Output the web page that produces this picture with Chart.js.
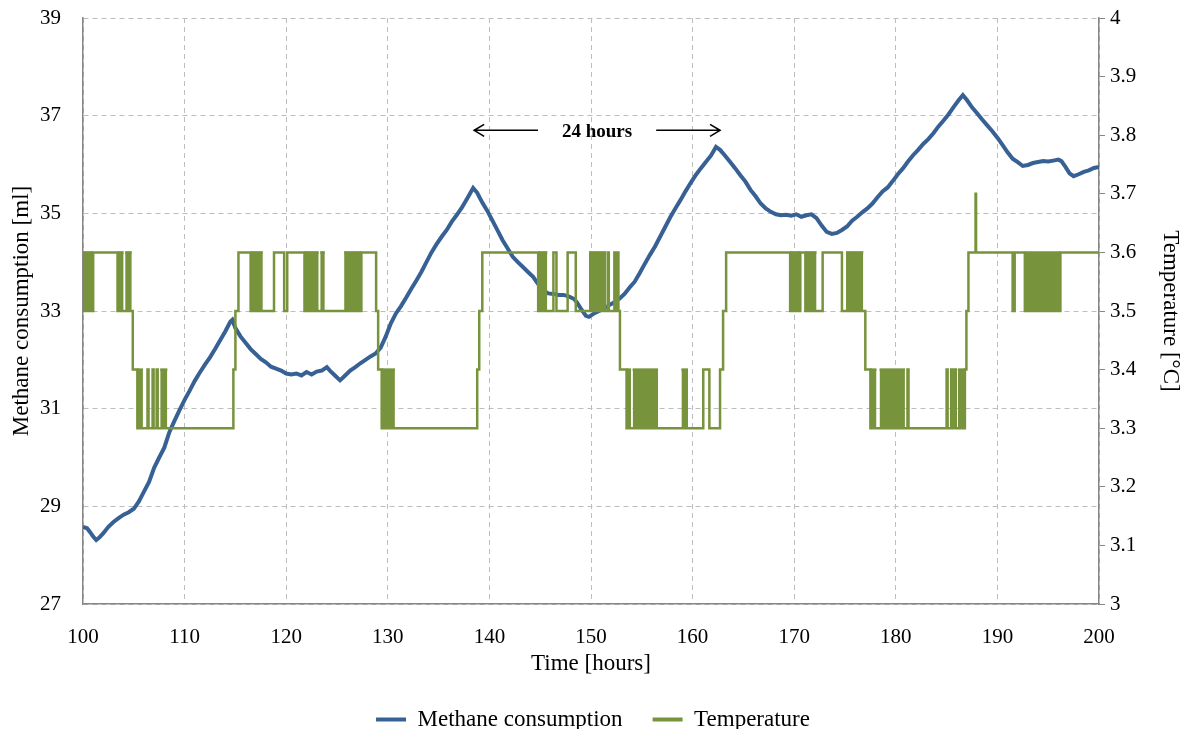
<!DOCTYPE html>
<html>
<head>
<meta charset="utf-8">
<script src="https://cdn.jsdelivr.net/npm/chart.js@4.4.1/dist/chart.umd.min.js"></script>
<style>
  html, body { margin: 0; padding: 0; background: #fff; }
  .chart-wrap { width: 1186px; height: 729px; }
</style>
</head>
<body>
<div class="chart-wrap"><canvas id="methaneChart"></canvas></div>
<script>
// methane consumption [ml] against time [hours]
const methaneHours = [
  100.0, 100.4, 100.7, 101.0, 101.3, 101.6, 102.0, 102.5, 103.0, 103.5, 104.0, 104.5, 105.0, 105.5,
  106.0, 106.5, 107.0, 107.5, 108.0, 108.5, 109.0, 109.5, 110.0, 110.5, 111.0, 111.5, 112.0, 112.5,
  113.0, 113.5, 114.0, 114.5, 114.7, 115.0, 115.5, 116.0, 116.5, 117.0, 117.5, 118.0, 118.5, 119.0,
  119.5, 120.0, 120.5, 121.0, 121.5, 122.0, 122.5, 123.0, 123.5, 124.0, 124.3, 124.8, 125.3, 125.8,
  126.3, 126.8, 127.3, 127.8, 128.3, 128.8, 129.3, 129.8, 130.3, 130.8, 131.3, 131.8, 132.3, 132.8,
  133.3, 133.8, 134.3, 134.8, 135.3, 135.8, 136.3, 136.8, 137.3, 137.8, 138.4, 138.8, 139.3, 139.8,
  140.3, 140.8, 141.3, 141.8, 142.3, 142.8, 143.3, 143.8, 144.3, 144.8, 145.3, 145.8, 146.3, 146.8,
  147.3, 147.8, 148.3, 148.6, 149.0, 149.5, 149.8, 150.3, 150.8, 151.3, 151.8, 152.3, 152.8, 153.3,
  153.8, 154.3, 154.8, 155.3, 155.8, 156.3, 156.8, 157.3, 157.8, 158.3, 158.8, 159.3, 159.8, 160.3,
  160.8, 161.3, 161.8, 162.3, 162.7, 163.2, 163.7, 164.2, 164.7, 165.2, 165.7, 166.2, 166.7, 167.2,
  167.7, 168.2, 168.7, 169.2, 169.7, 170.2, 170.7, 171.2, 171.7, 172.2, 172.7, 173.2, 173.7, 174.2,
  174.7, 175.2, 175.7, 176.2, 176.7, 177.2, 177.7, 178.2, 178.7, 179.2, 179.7, 180.2, 180.7, 181.2,
  181.7, 182.2, 182.7, 183.2, 183.7, 184.2, 184.7, 185.2, 185.7, 186.2, 186.6, 187.0, 187.5, 188.0,
  188.5, 189.0, 189.5, 190.0, 190.5, 191.0, 191.5, 192.0, 192.5, 193.0, 193.5, 194.0, 194.5, 195.0,
  195.5, 196.0, 196.3, 196.7, 197.1, 197.5, 198.0, 198.5, 199.0, 199.5, 200.0
];
const methaneMl = [
  28.58, 28.55, 28.47, 28.38, 28.31, 28.36, 28.45, 28.58, 28.68, 28.76, 28.83, 28.88, 28.95, 29.10,
  29.30, 29.50, 29.79, 30.00, 30.20, 30.52, 30.75, 30.97, 31.18, 31.37, 31.57, 31.74, 31.90, 32.05,
  32.22, 32.40, 32.58, 32.78, 32.82, 32.65, 32.48, 32.35, 32.22, 32.12, 32.02, 31.95, 31.86, 31.82,
  31.78, 31.72, 31.70, 31.72, 31.68, 31.75, 31.70, 31.76, 31.78, 31.85, 31.78, 31.68, 31.58, 31.68,
  31.78, 31.85, 31.93, 32.00, 32.07, 32.13, 32.25, 32.48, 32.75, 32.95, 33.10, 33.27, 33.45, 33.62,
  33.80, 34.00, 34.20, 34.37, 34.52, 34.66, 34.83, 34.97, 35.12, 35.30, 35.52, 35.42, 35.22, 35.05,
  34.85, 34.65, 34.45, 34.28, 34.11, 34.00, 33.90, 33.80, 33.70, 33.55, 33.42, 33.36, 33.35, 33.33,
  33.33, 33.30, 33.25, 33.18, 33.05, 32.90, 32.88, 32.95, 33.00, 33.05, 33.12, 33.18, 33.25, 33.35,
  33.48, 33.60, 33.78, 33.97, 34.15, 34.32, 34.52, 34.72, 34.92, 35.10, 35.27, 35.45, 35.62, 35.78,
  35.92, 36.05, 36.18, 36.36, 36.30, 36.18, 36.05, 35.92, 35.78, 35.65, 35.48, 35.35, 35.20, 35.10,
  35.03, 34.98, 34.96, 34.97, 34.95, 34.98, 34.93, 34.96, 34.98, 34.90, 34.75, 34.62, 34.58, 34.60,
  34.66, 34.73, 34.85, 34.93, 35.02, 35.10, 35.20, 35.33, 35.45, 35.53, 35.66, 35.80, 35.92, 36.06,
  36.19, 36.30, 36.42, 36.52, 36.64, 36.78, 36.90, 37.03, 37.18, 37.32, 37.42, 37.32, 37.17, 37.05,
  36.92, 36.80, 36.68, 36.55, 36.40, 36.25, 36.12, 36.05, 35.97, 35.99, 36.03, 36.05, 36.07, 36.06,
  36.08, 36.10, 36.07, 35.95, 35.82, 35.76, 35.80, 35.85, 35.88, 35.93, 35.95
];

// temperature [°C]: each entry is the time the reading switched and its new value
const tempHours = [
  100.0, 101.0, 103.4, 104.9, 105.35, 106.35, 106.45, 106.85, 106.95, 107.25, 107.35,
  114.8, 115.0, 115.3, 116.5, 118.8, 119.8, 120.1, 121.8, 127.4, 128.85, 129.05, 129.4,
  138.8, 139.0, 139.3, 144.8, 146.3, 146.6, 147.7, 148.5, 151.65, 151.75, 152.3, 152.4,
  152.6, 152.7, 152.85, 153.5, 161.05, 161.65, 162.7, 163.0, 163.3, 169.6, 170.6, 171.1,
  172.8, 174.7, 177.0, 177.5, 181.15, 181.25, 185.0, 185.1, 185.45, 185.55, 185.8, 185.9,
  186.8, 186.95, 187.15, 187.85, 187.9, 191.5, 191.7, 192.7, 196.2, 200.0
];
const tempValues = [
  3.5, 3.6, 3.5, 3.4, 3.3, 3.4, 3.3, 3.4, 3.3, 3.4, 3.3,
  3.4, 3.5, 3.6, 3.5, 3.6, 3.5, 3.6, 3.5, 3.6, 3.5, 3.4, 3.3,
  3.4, 3.5, 3.6, 3.5, 3.6, 3.5, 3.6, 3.5, 3.6, 3.5, 3.6, 3.5,
  3.6, 3.5, 3.4, 3.3, 3.4, 3.3, 3.4, 3.5, 3.6, 3.5, 3.6, 3.5,
  3.6, 3.5, 3.4, 3.3, 3.4, 3.3, 3.4, 3.3, 3.4, 3.3, 3.4, 3.3,
  3.4, 3.5, 3.6, 3.7, 3.6, 3.5, 3.6, 3.5, 3.6, 3.6
];

// stretches where the sensor flickers between two neighbouring readings
const flickerStart = [100.0, 103.4, 104.15, 116.5, 121.8, 123.35, 125.7, 144.8, 149.8, 169.6, 171.1, 175.1, 192.7,
                      105.35, 107.6, 129.4, 153.5, 154.1, 158.9, 177.5, 178.4, 186.1];
const flickerEnd   = [101.0, 104.0, 104.8, 117.7, 123.2, 123.8, 127.4, 145.7, 151.5, 170.6, 172.2, 176.8, 196.2,
                      105.9, 108.3, 130.7, 153.95, 156.6, 159.55, 178.1, 180.9, 186.8];
const flickerHigh  = [3.6, 3.6, 3.6, 3.6, 3.6, 3.6, 3.6, 3.6, 3.6, 3.6, 3.6, 3.6, 3.6,
                      3.4, 3.4, 3.4, 3.4, 3.4, 3.4, 3.4, 3.4, 3.4];

const methaneTicks = [27, 29, 31, 33, 35, 37, 39];
const tempTicks = [3, 3.1, 3.2, 3.3, 3.4, 3.5, 3.6, 3.7, 3.8, 3.9, 4];
const hourTicks = [100, 110, 120, 130, 140, 150, 160, 170, 180, 190, 200];

// "24 hours" arrow between two methane peaks
const arrowFrom = 138.5, arrowTo = 162.7, arrowLevel = 36.7;
const arrowText = '24 hours';

const blue = '#376194';
const green = '#77933c';
const serif = '"Liberation Serif", "Times New Roman", serif';

const methaneSeries = methaneHours.map((h, i) => ({x: h, y: methaneMl[i]}));
const tempSeries = tempHours.map((h, i) => ({x: h, y: tempValues[i]}));

const flickerSets = flickerStart.map((s, i) => ({
  label: 'flicker',
  isFlicker: true,
  data: [{x: s, y: flickerHigh[i]}, {x: flickerEnd[i], y: flickerHigh[i]}],
  yAxisID: 'yT',
  borderColor: green,
  backgroundColor: green,
  borderWidth: 2.5,
  pointRadius: 0,
  fill: {value: Math.round((flickerHigh[i] - 0.1) * 10) / 10},
  order: 0
}));

function fixedTicks(values) {
  return scale => { scale.ticks = values.map(v => ({value: v})); };
}

const arrowNote = {
  id: 'arrowNote',
  afterDatasetsDraw(chart) {
    const {ctx, scales} = chart;
    const yy = scales.y.getPixelForValue(arrowLevel);
    const x1 = scales.x.getPixelForValue(arrowFrom);
    const x2 = scales.x.getPixelForValue(arrowTo);
    const xm = (x1 + x2) / 2;
    ctx.save();
    ctx.font = 'bold 19px ' + serif;
    const gap = ctx.measureText(arrowText).width / 2 + 24;
    ctx.strokeStyle = '#000';
    ctx.lineWidth = 1.6;
    ctx.beginPath();
    ctx.moveTo(x1, yy); ctx.lineTo(xm - gap, yy);
    ctx.moveTo(xm + gap, yy); ctx.lineTo(x2, yy);
    // arrow heads
    ctx.moveTo(x1 + 10, yy - 6); ctx.lineTo(x1, yy); ctx.lineTo(x1 + 10, yy + 6);
    ctx.moveTo(x2 - 10, yy - 6); ctx.lineTo(x2, yy); ctx.lineTo(x2 - 10, yy + 6);
    ctx.stroke();
    ctx.fillStyle = '#000';
    ctx.textAlign = 'center';
    ctx.textBaseline = 'middle';
    ctx.fillText(arrowText, xm, yy + 2);
    ctx.restore();
  }
};

new Chart(document.getElementById('methaneChart'), {
  type: 'line',
  data: {
    datasets: [
      {
        label: 'Methane consumption',
        data: methaneSeries,
        yAxisID: 'y',
        borderColor: blue,
        backgroundColor: blue,
        borderWidth: 4,
        pointRadius: 0,
        tension: 0,
        order: 2
      },
      {
        label: 'Temperature',
        data: tempSeries,
        yAxisID: 'yT',
        borderColor: green,
        backgroundColor: green,
        borderWidth: 2.5,
        pointRadius: 0,
        stepped: true,
        order: 1
      },
      ...flickerSets
    ]
  },
  options: {
    responsive: true,
    maintainAspectRatio: false,
    animation: false,
    layout: { padding: { top: 18, left: 0, right: 0, bottom: -12 } },
    plugins: {
      tooltip: { enabled: false },
      legend: {
        position: 'bottom',
        labels: {
          font: { family: serif, size: 23 },
          color: '#000',
          boxWidth: 30,
          boxHeight: 4,
          padding: 30,
          filter: (item, data) => !data.datasets[item.datasetIndex].isFlicker,
          sort: (a, b) => a.datasetIndex - b.datasetIndex,
          generateLabels: chart => Chart.defaults.plugins.legend.labels.generateLabels(chart)
            .map(item => Object.assign(item, { lineWidth: 0 }))
        }
      }
    },
    scales: {
      x: {
        type: 'linear',
        min: 100,
        max: 200,
        afterBuildTicks: fixedTicks(hourTicks),
        afterFit: s => { s.height = 74; },
        grid: { color: '#bdbdbd', drawTicks: false },
        border: { color: '#868686', dash: [5, 4], width: 1.5 },
        ticks: { font: { family: serif, size: 21 }, color: '#000', padding: 21, maxRotation: 0 },
        title: { display: true, text: 'Time [hours]', font: { family: serif, size: 23 }, color: '#000', padding: { top: 2, bottom: 0 } }
      },
      y: {
        position: 'left',
        min: 27,
        max: 39,
        afterBuildTicks: fixedTicks(methaneTicks),
        afterFit: s => { s.width = 83; },
        // tick marks kept invisible: they only space the labels off the axis
        grid: { color: '#bdbdbd', drawTicks: true, tickLength: 21, tickColor: 'rgba(0,0,0,0)' },
        border: { color: '#868686', dash: [5, 4], width: 1.5 },
        ticks: { font: { family: serif, size: 21 }, color: '#000', padding: 1 },
        title: { display: true, text: 'Methane consumption [ml]', font: { family: serif, size: 23 }, color: '#000', padding: { top: 8, bottom: 0 } }
      },
      yT: {
        position: 'right',
        min: 3,
        max: 4,
        afterBuildTicks: fixedTicks(tempTicks),
        afterFit: s => { s.width = 87; },
        grid: { drawOnChartArea: false, color: '#868686', tickLength: 6 },
        border: { color: '#868686', width: 1.5 },
        ticks: {
          font: { family: serif, size: 21 }, color: '#000', padding: 5,
          callback: v => String(Number(v.toFixed(1)))
        },
        title: { display: true, text: 'Temperature [°C]', font: { family: serif, size: 23 }, color: '#000', padding: { top: 2, bottom: 0 } }
      }
    }
  },
  plugins: [arrowNote]
});
</script>
</body>
</html>
